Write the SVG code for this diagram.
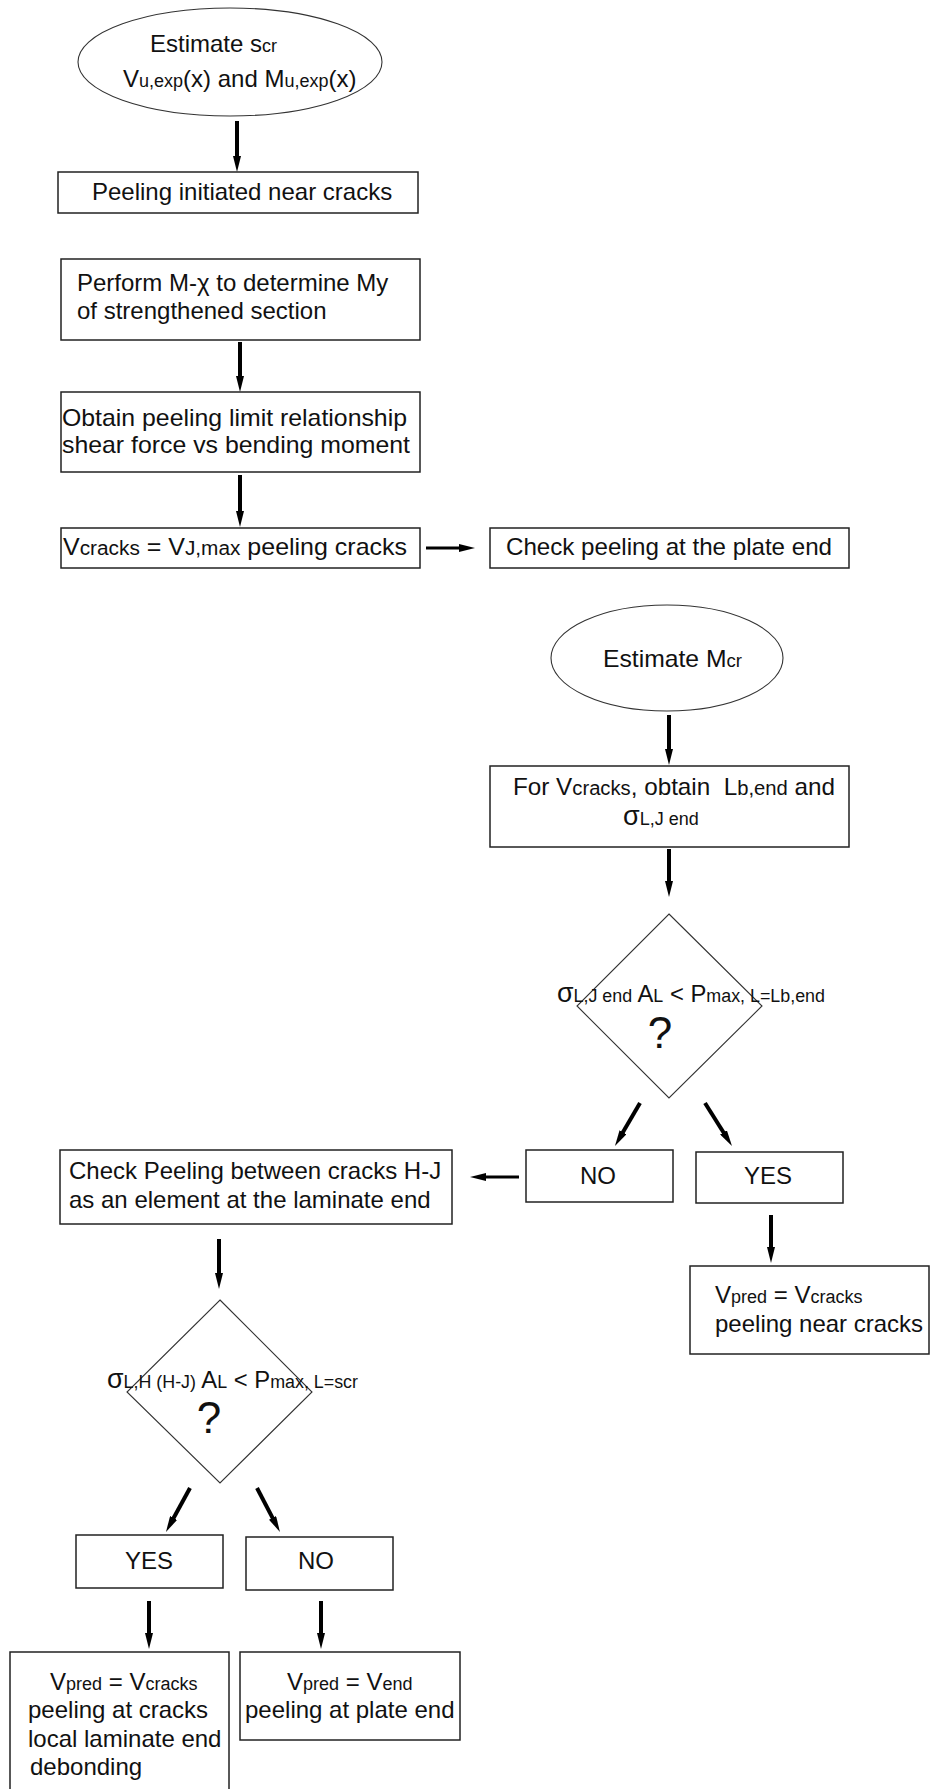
<svg xmlns="http://www.w3.org/2000/svg" width="930" height="1789" viewBox="0 0 930 1789">
  <style>
    .box { fill: #fff; stroke: #222; stroke-width: 1.5; }
    .thin { fill: #fff; stroke: #333; stroke-width: 1.1; }
    .t { font-family: "Liberation Sans", Arial, sans-serif; font-size: 24px; fill: #111; }
    .s { font-size: 18px; }
    .m { font-size: 20px; }
    .g { font-size: 27px; }
    .q { font-size: 44px; text-anchor: middle; }
    .c { text-anchor: middle; }
    .arrow { fill: none; stroke: #000; stroke-width: 4; marker-end: url(#head); }
    .arrow2 { fill: none; stroke: #000; stroke-width: 3; marker-end: url(#head); }
  </style>
  <defs>
    <marker id="head" viewBox="0 0 16 8" refX="4" refY="4" markerWidth="16" markerHeight="8" markerUnits="userSpaceOnUse" orient="auto">
      <path d="M0,0 L16,4 L0,8 Z" fill="#000"/>
    </marker>
  </defs>
  <rect width="930" height="1789" fill="#fff"/>

  <!-- connectors -->
  <g id="connectors">
    <path class="arrow" d="M237,121 V160"/>
    <path class="arrow" d="M240,342 V380"/>
    <path class="arrow" d="M240,475 V515"/>
    <path class="arrow2" d="M426,548 H463"/>
    <path class="arrow" d="M669,715 V753"/>
    <path class="arrow" d="M669,849 V885"/>
    <path class="arrow" d="M640,1103 L621,1135.6"/>
    <path class="arrow" d="M705,1103 L725.6,1135.8"/>
    <path class="arrow2" d="M519,1177 H482"/>
    <path class="arrow" d="M771,1215 V1251"/>
    <path class="arrow" d="M219,1239 V1277"/>
    <path class="arrow" d="M190,1488 L171.7,1521.5"/>
    <path class="arrow" d="M257,1488 L274.4,1521.4"/>
    <path class="arrow" d="M149,1601 V1637"/>
    <path class="arrow" d="M321,1601 V1637"/>
  </g>

  <!-- start: crack spacing and experimental actions -->
  <g id="start-scr">
    <ellipse class="thin" cx="230" cy="62" rx="152" ry="54"/>
    <text class="t" x="150" y="52">Estimate s<tspan class="s">cr</tspan></text>
    <text class="t" x="123" y="87">V<tspan class="s">u,exp</tspan>(x) and M<tspan class="s">u,exp</tspan>(x)</text>
  </g>

  <g id="peeling-initiated">
    <rect class="box" x="58" y="172" width="360" height="41"/>
    <text class="t" x="92" y="200">Peeling initiated near cracks</text>
  </g>

  <g id="moment-curvature">
    <rect class="box" x="61" y="259" width="359" height="81"/>
    <text class="t" x="77" y="291">Perform M-χ to determine My</text>
    <text class="t" x="77" y="319">of strengthened section</text>
  </g>

  <g id="peeling-limit">
    <rect class="box" x="61" y="392" width="359" height="80"/>
    <text class="t" x="62" y="426" textLength="345" lengthAdjust="spacingAndGlyphs">Obtain peeling limit relationship</text>
    <text class="t" x="62" y="453" textLength="348" lengthAdjust="spacingAndGlyphs">shear force vs bending moment</text>
  </g>

  <g id="v-cracks">
    <rect class="box" x="61" y="528" width="359" height="40"/>
    <text class="t" x="63" y="555" textLength="344" lengthAdjust="spacingAndGlyphs">V<tspan class="m">cracks</tspan> = V<tspan class="m">J,max</tspan> peeling cracks</text>
  </g>

  <g id="check-plate-end">
    <rect class="box" x="490" y="528" width="359" height="40"/>
    <text class="t" x="506" y="555" textLength="326" lengthAdjust="spacingAndGlyphs">Check peeling at the plate end</text>
  </g>

  <!-- plate end branch -->
  <g id="start-mcr">
    <ellipse class="thin" cx="667" cy="658" rx="116" ry="53"/>
    <text class="t" x="603" y="667" textLength="139" lengthAdjust="spacingAndGlyphs">Estimate M<tspan class="s">cr</tspan></text>
  </g>

  <g id="bond-length">
    <rect class="box" x="490" y="766" width="359" height="81"/>
    <text class="t" x="513" y="795" textLength="322" lengthAdjust="spacingAndGlyphs" xml:space="preserve">For V<tspan class="m">cracks</tspan>, obtain  L<tspan class="m">b,end</tspan> and</text>
    <text class="t" x="623" y="825"><tspan class="g">σ</tspan><tspan class="s">L,J end</tspan></text>
  </g>

  <g id="decision-end">
    <path class="thin" d="M669,914 L762,1006 L669,1098 L577,1006 Z"/>
    <text class="t" x="557" y="1002" textLength="268" lengthAdjust="spacingAndGlyphs"><tspan class="g">σ</tspan><tspan class="s">L,J end</tspan> A<tspan class="s">L</tspan> &lt; P<tspan class="s">max, L=Lb,end</tspan></text>
    <text class="t q" x="660" y="1048">?</text>
  </g>

  <g id="no-end">
    <rect class="box" x="526" y="1150" width="147" height="52"/>
    <text class="t c" x="598" y="1184">NO</text>
  </g>

  <g id="yes-end">
    <rect class="box" x="696" y="1152" width="147" height="51"/>
    <text class="t c" x="768" y="1184">YES</text>
  </g>

  <g id="result-near-cracks">
    <rect class="box" x="690" y="1266" width="239" height="88"/>
    <text class="t" x="715" y="1303">V<tspan class="s">pred</tspan> = V<tspan class="s">cracks</tspan></text>
    <text class="t" x="715" y="1332">peeling near cracks</text>
  </g>

  <!-- crack element branch -->
  <g id="check-between-cracks">
    <rect class="box" x="60" y="1150" width="392" height="74"/>
    <text class="t" x="69" y="1179">Check Peeling between cracks H-J</text>
    <text class="t" x="69" y="1208">as an element at the laminate end</text>
  </g>

  <g id="decision-cracks">
    <path class="thin" d="M220,1300 L312,1392 L220,1483 L127,1392 Z"/>
    <text class="t" x="107" y="1388" textLength="251" lengthAdjust="spacingAndGlyphs"><tspan class="g">σ</tspan><tspan class="s">L,H (H-J)</tspan> A<tspan class="s">L</tspan> &lt; P<tspan class="s">max, L=scr</tspan></text>
    <text class="t q" x="209" y="1433">?</text>
  </g>

  <g id="yes-cracks">
    <rect class="box" x="76" y="1535" width="147" height="53"/>
    <text class="t c" x="149" y="1569">YES</text>
  </g>

  <g id="no-cracks">
    <rect class="box" x="246" y="1537" width="147" height="53"/>
    <text class="t c" x="316" y="1569">NO</text>
  </g>

  <g id="result-cracks">
    <rect class="box" x="10" y="1652" width="219" height="145"/>
    <text class="t" x="50" y="1690">V<tspan class="s">pred</tspan> = V<tspan class="s">cracks</tspan></text>
    <text class="t" x="28" y="1718">peeling at cracks</text>
    <text class="t" x="28" y="1747">local laminate end</text>
    <text class="t" x="30" y="1775">debonding</text>
  </g>

  <g id="result-plate-end">
    <rect class="box" x="240" y="1652" width="220" height="88"/>
    <text class="t" x="287" y="1690">V<tspan class="s">pred</tspan> = V<tspan class="s">end</tspan></text>
    <text class="t" x="245" y="1718">peeling at plate end</text>
  </g>
</svg>
